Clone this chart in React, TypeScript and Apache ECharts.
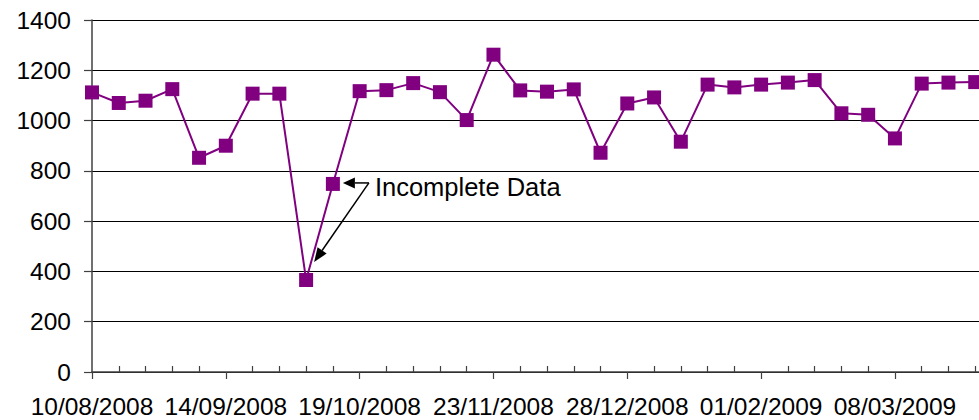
import React, { useEffect, useRef } from "react";
import * as echarts from "echarts";

const categories = [
  "10/08/2008", "17/08/2008", "24/08/2008", "31/08/2008", "07/09/2008",
  "14/09/2008", "21/09/2008", "28/09/2008", "05/10/2008", "12/10/2008",
  "19/10/2008", "26/10/2008", "02/11/2008", "09/11/2008", "16/11/2008",
  "23/11/2008", "30/11/2008", "07/12/2008", "14/12/2008", "21/12/2008",
  "28/12/2008", "04/01/2009", "11/01/2009", "18/01/2009", "25/01/2009",
  "01/02/2009", "08/02/2009", "15/02/2009", "22/02/2009", "01/03/2009",
  "08/03/2009", "15/03/2009", "22/03/2009", "29/03/2009", "05/04/2009",
];

const values: (number | null)[] = [
  1112, 1070, 1079, 1125, 852, 900, 1107, 1107, 366, 748,
  1117, 1121, 1149, 1113, 1002, 1262, 1120, 1115, 1124, 872,
  1068, 1092, 916, 1143, 1132, 1143, 1151, 1161, 1029, 1023,
  929, 1147, 1151, 1153, null,
];

const yTicks = { min: 0, max: 1400, interval: 200 };
const annotationText = "Incomplete Data";
const annotatedIdx = [9, 8];

const FONT = '"Liberation Sans", Arial, sans-serif';

function arrow(from: number[], to: number[], len: number, half: number) {
  const dx = to[0] - from[0];
  const dy = to[1] - from[1];
  const d = Math.sqrt(dx * dx + dy * dy);
  const ux = dx / d;
  const uy = dy / d;
  const bx = to[0] - ux * len;
  const by = to[1] - uy * len;
  const nx = -uy;
  const ny = ux;
  return [
    {
      type: "line",
      shape: { x1: from[0], y1: from[1], x2: bx, y2: by },
      style: { stroke: "#000", lineWidth: 1.5 },
      z: 10,
    },
    {
      type: "polygon",
      shape: {
        points: [
          [to[0], to[1]],
          [bx + nx * half, by + ny * half],
          [bx - nx * half, by - ny * half],
        ],
      },
      style: { fill: "#000" },
      z: 10,
    },
  ];
}

export default function App() {
  const ref = useRef<HTMLDivElement>(null);
  useEffect(() => {
    if (!ref.current) return;
    const chart = echarts.init(ref.current, null, { renderer: "svg" });
    chart.setOption({
      animation: false,
      backgroundColor: "#fff",
      textStyle: { fontFamily: FONT },
      grid: { left: 92, right: 8, top: 20, bottom: 48 },
      xAxis: [
        {
          type: "category",
          position: "bottom",
          data: categories,
          boundaryGap: false,
          axisLine: { lineStyle: { color: "#404040", width: 1.5 } },
          axisTick: {
            inside: false,
            length: 7,
            interval: 4,
            lineStyle: { color: "#404040", width: 1.2 },
          },
          axisLabel: {
            interval: 4,
            fontSize: 24.5,
            color: "#000",
            fontFamily: FONT,
            margin: 22,
          },
          splitLine: { show: false },
        },
        {
          type: "category",
          position: "bottom",
          data: categories,
          boundaryGap: false,
          axisLine: { show: false },
          axisTick: {
            inside: true,
            length: 6,
            interval: (i: number) => i % 5 !== 0,
            lineStyle: { color: "#404040", width: 1.2 },
          },
          axisLabel: { show: false },
          splitLine: { show: false },
        },
      ],
      yAxis: {
        type: "value",
        min: yTicks.min,
        max: yTicks.max,
        interval: yTicks.interval,
        axisLine: { show: true, lineStyle: { color: "#404040", width: 1.5 } },
        axisTick: {
          show: true,
          inside: false,
          length: 8,
          lineStyle: { color: "#404040", width: 1.2 },
        },
        axisLabel: {
          fontSize: 24.5,
          color: "#000",
          fontFamily: FONT,
          margin: 21,
          formatter: (v: number) => String(v),
        },
        splitLine: { show: true, lineStyle: { color: "#000", width: 1 } },
      },
      series: [
        {
          type: "line",
          xAxisIndex: 0,
          data: values,
          symbol: "rect",
          symbolSize: 14,
          showSymbol: true,
          connectNulls: false,
          itemStyle: { color: "#800080" },
          lineStyle: { color: "#800080", width: 2 },
          clip: false,
          z: 5,
        },
      ],
    });

    const pA = chart.convertToPixel({ seriesIndex: 0 }, [
      annotatedIdx[0],
      values[annotatedIdx[0]] as number,
    ]) as number[];
    const pB = chart.convertToPixel({ seriesIndex: 0 }, [
      annotatedIdx[1],
      values[annotatedIdx[1]] as number,
    ]) as number[];
    const bend = [pA[0] + 36, pA[1] - 1];
    const tip1 = [pA[0] + 10, pA[1] - 1];
    const tip2 = [pB[0] + 8, pB[1] - 18];

    chart.setOption({
      graphic: [
        {
          type: "text",
          x: pA[0] + 42,
          y: pA[1] + 3,
          style: {
            text: annotationText,
            fontSize: 25.5,
            fontFamily: FONT,
            fill: "#000",
            textVerticalAlign: "middle",
            verticalAlign: "middle",
          },
          z: 10,
        },
        ...arrow(bend, tip1, 12, 5.5),
        ...arrow(bend, tip2, 14, 5.5),
      ],
    });

    return () => chart.dispose();
  }, []);

  return (
    <div
      style={{
        position: "fixed",
        left: 0,
        top: 0,
        width: 979,
        height: 420,
        overflow: "hidden",
        background: "#fff",
      }}
    >
      <div ref={ref} style={{ width: 1010, height: 420 }} />
    </div>
  );
}
